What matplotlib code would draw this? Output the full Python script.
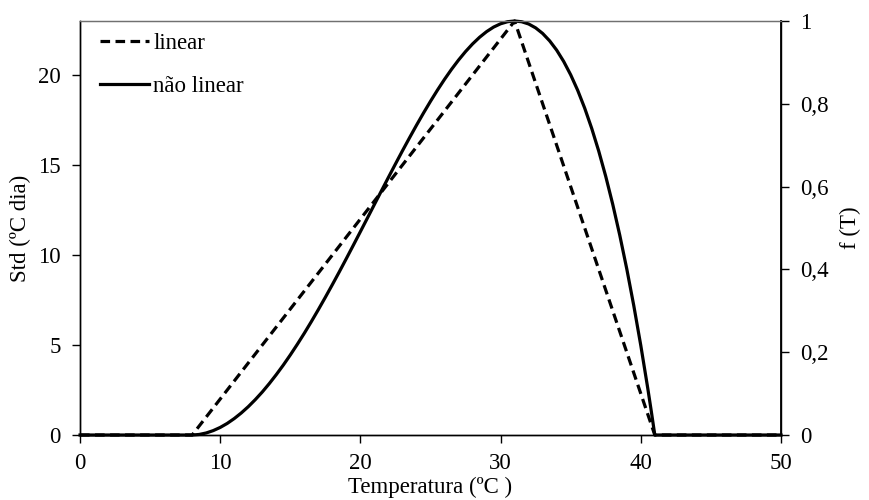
import matplotlib
matplotlib.use("Agg")
import matplotlib.pyplot as plt

# Temperature axis (ºC) and the two thermal response curves f(T)
temperatura = [0, 8, 31, 41, 50]
f_linear = [0.0, 0.0, 1.0, 0.0, 0.0]

temp_nl = [0, 1, 2, 3, 4, 5, 6, 7,
           8, 8.5, 9, 9.5, 10, 10.5, 11, 11.5, 12, 12.5, 13, 13.5,
           14, 14.5, 15, 15.5, 16, 16.5, 17, 17.5, 18, 18.5, 19, 19.5,
           20, 20.5, 21, 21.5, 22, 22.5, 23, 23.5, 24, 24.5, 25, 25.5,
           26, 26.5, 27, 27.5, 28, 28.5, 29, 29.5, 30, 30.5, 31, 31.5,
           32, 32.5, 33, 33.5, 34, 34.5, 35, 35.5, 36, 36.5, 37, 37.5,
           38, 38.5, 39, 39.5, 40, 40.5, 40.75, 41,
           42, 43, 44, 45, 46, 47, 48, 49, 50]
f_nao_linear = [0, 0, 0, 0, 0, 0, 0, 0,
                0.0000, 0.0013, 0.0049, 0.0106, 0.0183, 0.0280, 0.0397, 0.0532,
                0.0684, 0.0854, 0.1039, 0.1242,
                0.1459, 0.1689, 0.1934, 0.2191, 0.2459, 0.2739, 0.3029, 0.3327,
                0.3633, 0.3945, 0.4264, 0.4587,
                0.4913, 0.5241, 0.5570, 0.5898, 0.6224, 0.6547, 0.6866, 0.7177,
                0.7482, 0.7777, 0.8061, 0.8333,
                0.8591, 0.8833, 0.9057, 0.9262, 0.9446, 0.9607, 0.9743, 0.9853,
                0.9933, 0.9983, 1.0000, 0.9982,
                0.9928, 0.9834, 0.9699, 0.9520, 0.9296, 0.9023, 0.8700, 0.8325,
                0.7894, 0.7406, 0.6858, 0.6247,
                0.5571, 0.4827, 0.4013, 0.3126, 0.2164, 0.1124, 0.0573, 0.0,
                0, 0, 0, 0, 0, 0, 0, 0, 0]

std_ticks = [0, 5, 10, 15, 20]
f_ticks = [0, 0.2, 0.4, 0.6, 0.8, 1.0]
f_ticklabels = ["0", "0,2", "0,4", "0,6", "0,8", "1"]
x_ticks = [0, 10, 20, 30, 40, 50]
STD_MAX = 23

plt.rcParams["font.family"] = ["Liberation Serif", "DejaVu Serif"]
plt.rcParams["font.size"] = 16.5

fig = plt.figure(figsize=(8.69, 5.0), dpi=100)
ax = fig.add_axes([0.0921, 0.13, 0.8066, 0.828])
ax2 = ax.twinx()

lw = 2.3
ax2.plot(temperatura, f_linear, color="black", lw=lw, dashes=(3, 1.7),
         label="linear", clip_on=False)
ax2.plot(temp_nl, f_nao_linear, color="black", lw=lw,
         label="não linear", clip_on=False)

ax.set_xlim(0, 50)
ax.set_ylim(0, STD_MAX)
ax2.set_ylim(0, 1)

ax.set_xticks(x_ticks)
ax.set_yticks(std_ticks)
ax2.set_yticks(f_ticks)
ax2.set_yticklabels(f_ticklabels)

for a in (ax, ax2):
    a.tick_params(direction="out", length=6, width=1, colors="black")
    for s in a.spines.values():
        s.set_linewidth(1.0)
        s.set_color("black")
    a.spines["top"].set_color("#707070")
    a.spines["top"].set_linewidth(0.9)
ax2.spines["right"].set_linewidth(1.3)
ax.tick_params(axis="x", pad=7)
ax.tick_params(axis="y", pad=8)
ax2.tick_params(axis="y", pad=7.5)

ax.set_xlabel("Temperatura (ºC )", labelpad=2)
ax.set_ylabel("Std (ºC dia)", labelpad=5)
ax2.set_ylabel("f (T)", labelpad=8)

ax2.legend(loc="upper left", frameon=False, handlelength=2.1,
           handletextpad=0.2, labelspacing=0.95,
           bbox_to_anchor=(0.016, 0.993), borderaxespad=0.0)

fig.savefig("out.png", dpi=100)
